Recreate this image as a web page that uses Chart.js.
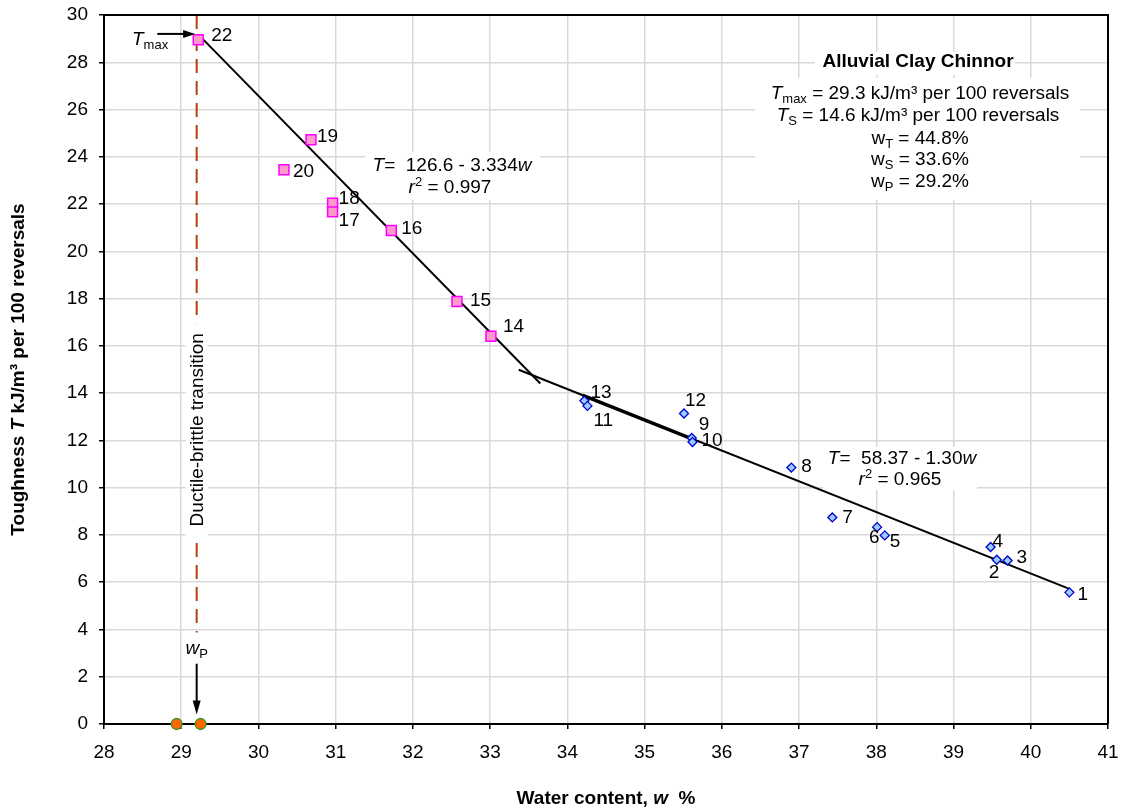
<!DOCTYPE html>
<html>
<head>
<meta charset="utf-8">
<script src="https://cdn.jsdelivr.net/npm/chart.js@4"></script>
<style>
  html, body { margin: 0; padding: 0; background: #fff; }
  #wrap { width: 1126px; height: 811px; }
</style>
</head>
<body>
<div id="wrap"><canvas id="chart"></canvas></div>
<script>
// --- data ---
const pinkW = [29.22, 30.68, 30.33, 30.96, 30.96, 31.72, 32.57, 33.01];
const pinkT = [28.95, 24.72, 23.45, 22.04, 21.67, 20.88, 17.88, 16.41];
const pinkIds = ['22', '19', '20', '18', '17', '16', '15', '14'];

const blueW = [34.22, 34.26, 35.51, 35.61, 35.62, 36.90, 37.43, 38.01, 38.11, 39.48, 39.56, 39.70, 40.50];
const blueT = [13.68, 13.46, 13.14, 12.10, 11.93, 10.85, 8.74, 8.33, 7.98, 7.49, 6.95, 6.92, 5.57];
const blueIds = ['13', '11', '12', '9', '10', '8', '7', '6', '5', '4', '2', '3', '1'];

const plasticW = [28.94, 29.25];
const plasticT = [0, 0];

const fit1W = [29.22, 33.65];
const fit1T = [29.18, 14.41];
const fit2W = [33.37, 40.50];
const fit2T = [14.99, 5.72];
const fit2BoldW = [34.20, 35.59];
const fit2BoldT = [13.91, 12.10];

const wP = 29.2;
const wPLineT = [30, 3.87];
const wPArrowT = [2.55, 0.4];
const tmaxArrowW = [28.69, 29.18];
const tmaxArrowT = 29.2;

const xTicks = [28, 29, 30, 31, 32, 33, 34, 35, 36, 37, 38, 39, 40, 41];
const yTicks = [0, 2, 4, 6, 8, 10, 12, 14, 16, 18, 20, 22, 24, 26, 28, 30];

// label offsets in px (text left, middle) from each point
const pinkOffsets = [[13, -4], [6, -3], [9, 2], [6, -4], [6, 9], [10, -2], [13, -1], [12, -9]];
const blueOffsets = [[6, -8], [6, 15], [1, -13], [7, -13], [9, -1], [10, -1], [10, 0], [-8, 11], [5, 6], [2, -5], [-8, 13], [9, -3], [8, 2]];

const FONT = '"Liberation Sans", Arial, sans-serif';
const R = '19px ' + FONT;
const I = 'italic 19px ' + FONT;
const S = '13px ' + FONT;
const B = 'bold 19px ' + FONT;
const BI = 'bold italic 19px ' + FONT;

const toXY = (xs, ys) => xs.map((x, i) => ({ x: x, y: ys[i] }));

// draws a row of text runs: [text, font, dy]
function drawRuns(ctx, runs, x, y, align) {
    let total = 0;
    runs.forEach(r => { ctx.font = r[1]; total += ctx.measureText(r[0]).width; });
    let cx = align === 'center' ? x - total / 2 : x;
    runs.forEach(r => {
        ctx.font = r[1];
        ctx.fillText(r[0], cx, y + (r[2] || 0));
        cx += ctx.measureText(r[0]).width;
    });
    return total;
}

function whiteBox(ctx, x0, y0, x1, y1) {
    ctx.fillStyle = '#fff';
    ctx.fillRect(x0, y0, x1 - x0, y1 - y0);
}

const overlay = {
    id: 'overlay',
    afterDatasetsDraw(chart) {
        const ctx = chart.ctx;
        const xs = chart.scales.x, ys = chart.scales.y;
        const area = chart.chartArea;
        ctx.save();
        ctx.textBaseline = 'middle';
        ctx.textAlign = 'left';

        // ductile-brittle label over the dashed line
        const dx = xs.getPixelForValue(wP);
        const dy = ys.getPixelForValue(12.45);
        ctx.font = R;
        const dw = ctx.measureText('Ductile-brittle transition').width;
        whiteBox(ctx, dx - 11, dy - dw / 2 - 10, dx + 11, dy + dw / 2 + 10);
        ctx.save();
        ctx.translate(dx, dy);
        ctx.rotate(-Math.PI / 2);
        ctx.fillStyle = '#000';
        ctx.textAlign = 'center';
        ctx.fillText('Ductile-brittle transition', 0, 1);
        ctx.restore();

        // equation 1
        whiteBox(ctx, 365, 152, 540, 200);
        ctx.fillStyle = '#000';
        drawRuns(ctx, [['T', I], ['=  126.6 - 3.334', R], ['w', I]], 452, 166, 'center');
        drawRuns(ctx, [['r', I], ['2', S, -6], [' = 0.997', R]], 450, 188, 'center');

        // equation 2
        whiteBox(ctx, 823, 447, 977, 490);
        ctx.fillStyle = '#000';
        drawRuns(ctx, [['T', I], ['=  58.37 - 1.30', R], ['w', I]], 902, 459, 'center');
        drawRuns(ctx, [['r', I], ['2', S, -6], [' = 0.965', R]], 900, 480, 'center');

        // info box
        whiteBox(ctx, 815, 52, 1015, 75);
        whiteBox(ctx, 755, 78, 1080, 200);
        ctx.fillStyle = '#000';
        drawRuns(ctx, [['Alluvial Clay Chinnor', B]], 918, 62, 'center');
        drawRuns(ctx, [['T', I], ['max', S, 5], [' = 29.3 kJ/m³ per 100 reversals', R]], 920, 94, 'center');
        drawRuns(ctx, [['T', I], ['S', S, 5], [' = 14.6 kJ/m³ per 100 reversals', R]], 918, 116, 'center');
        drawRuns(ctx, [['w', R], ['T', S, 5], [' = 44.8%', R]], 920, 139, 'center');
        drawRuns(ctx, [['w', R], ['S', S, 5], [' = 33.6%', R]], 920, 160, 'center');
        drawRuns(ctx, [['w', R], ['P', S, 5], [' = 29.2%', R]], 920, 182, 'center');

        // point labels
        ctx.font = R;
        ctx.fillStyle = '#000';
        const m0 = chart.getDatasetMeta(0).data;
        m0.forEach((p, i) => ctx.fillText(pinkIds[i], p.x + pinkOffsets[i][0], p.y + pinkOffsets[i][1]));
        const m1 = chart.getDatasetMeta(1).data;
        m1.forEach((p, i) => ctx.fillText(blueIds[i], p.x + blueOffsets[i][0], p.y + blueOffsets[i][1]));

        // T max arrow
        ctx.strokeStyle = '#000';
        ctx.lineWidth = 2;
        const ay = ys.getPixelForValue(tmaxArrowT);
        const ax0 = xs.getPixelForValue(tmaxArrowW[0]), ax1 = xs.getPixelForValue(tmaxArrowW[1]);
        ctx.beginPath(); ctx.moveTo(ax0, ay); ctx.lineTo(ax1 - 8, ay); ctx.stroke();
        ctx.beginPath(); ctx.moveTo(ax1, ay); ctx.lineTo(ax1 - 12, ay - 4); ctx.lineTo(ax1 - 12, ay + 4); ctx.closePath(); ctx.fill();
        drawRuns(ctx, [['T', I], ['max', S, 5]], 132, 40, 'left');

        // w P arrow
        const bx = xs.getPixelForValue(wP);
        const by0 = ys.getPixelForValue(wPArrowT[0]), by1 = ys.getPixelForValue(wPArrowT[1]);
        ctx.beginPath(); ctx.moveTo(bx, by0); ctx.lineTo(bx, by1 - 8); ctx.stroke();
        ctx.beginPath(); ctx.moveTo(bx, by1); ctx.lineTo(bx - 4, by1 - 14); ctx.lineTo(bx + 4, by1 - 14); ctx.closePath(); ctx.fill();
        drawRuns(ctx, [['w', I], ['P', S, 5]], bx, 649, 'center');

        // frame top and right
        ctx.beginPath();
        ctx.moveTo(area.left, area.top);
        ctx.lineTo(area.right, area.top);
        ctx.lineTo(area.right, area.bottom);
        ctx.lineWidth = 2;
        ctx.stroke();

        // axis titles
        ctx.textBaseline = 'middle';
        drawRuns(ctx, [['Water content, ', B], ['w', BI], ['  %', B]], (area.left + area.right) / 2, 799, 'center');
        ctx.save();
        ctx.translate(19, (area.top + area.bottom) / 2);
        ctx.rotate(-Math.PI / 2);
        drawRuns(ctx, [['Toughness ', B], ['T', BI], [' kJ/m³ per 100 reversals', B]], 0, 0, 'center');
        ctx.restore();

        ctx.restore();
    }
};

new Chart(document.getElementById('chart'), {
    type: 'scatter',
    data: {
        datasets: [
            {
                label: 'pink', data: toXY(pinkW, pinkT),
                pointStyle: 'rect', pointRadius: 7, pointBackgroundColor: '#ff99cc',
                pointBorderColor: '#ff00ff', pointBorderWidth: 1.5, showLine: false
            },
            {
                label: 'blue', data: toXY(blueW, blueT),
                pointStyle: 'rectRot', pointRadius: 4.5, pointBackgroundColor: '#99ccff',
                pointBorderColor: '#0000cc', pointBorderWidth: 1.3, showLine: false
            },
            {
                label: 'plastic', data: toXY(plasticW, plasticT), clip: false,
                pointStyle: 'circle', pointRadius: 5.5, pointBackgroundColor: '#ff6600',
                pointBorderColor: '#339933', pointBorderWidth: 1.3, showLine: false
            },
            {
                label: 'fit1', data: toXY(fit1W, fit1T), showLine: true,
                borderColor: '#000', borderWidth: 2, pointRadius: 0
            },
            {
                label: 'fit2', data: toXY(fit2W, fit2T), showLine: true,
                borderColor: '#000', borderWidth: 2, pointRadius: 0
            },
            {
                label: 'fit2b', data: toXY(fit2BoldW, fit2BoldT), showLine: true,
                borderColor: '#000', borderWidth: 3.5, pointRadius: 0
            },
            {
                label: 'wP', data: toXY([wP, wP], wPLineT), showLine: true,
                borderColor: '#b0400a', borderWidth: 2, borderDash: [14, 8], pointRadius: 0
            }
        ]
    },
    options: {
        responsive: true,
        maintainAspectRatio: false,
        animation: false,
        layout: { padding: { top: 15, right: 18, left: 0, bottom: 0 } },
        plugins: { legend: { display: false }, tooltip: { enabled: false } },
        scales: {
            x: {
                type: 'linear', min: 28, max: 41,
                afterFit: (s) => { s.height = 87; s.paddingLeft = 0; s.paddingRight = 0; },
                afterBuildTicks: (s) => { s.ticks = xTicks.map(v => ({ value: v })); },
                grid: { color: '#d9d9d9', lineWidth: 1.5, tickColor: '#000', tickLength: 5, tickWidth: 1.5 },
                border: { color: '#000', width: 2 },
                ticks: { color: '#000', font: { family: FONT, size: 19 }, padding: 12, maxRotation: 0 }
            },
            y: {
                type: 'linear', min: 0, max: 30,
                afterFit: (s) => { s.width = 104; s.paddingTop = 0; s.paddingBottom = 0; },
                afterBuildTicks: (s) => { s.ticks = yTicks.map(v => ({ value: v })); },
                grid: { color: '#d9d9d9', lineWidth: 1.5, tickColor: '#000', tickLength: 5, tickWidth: 1.5 },
                border: { color: '#000', width: 2 },
                ticks: { color: '#000', font: { family: FONT, size: 19 }, padding: 11 }
            }
        }
    },
    plugins: [overlay]
});
</script>
</body>
</html>
